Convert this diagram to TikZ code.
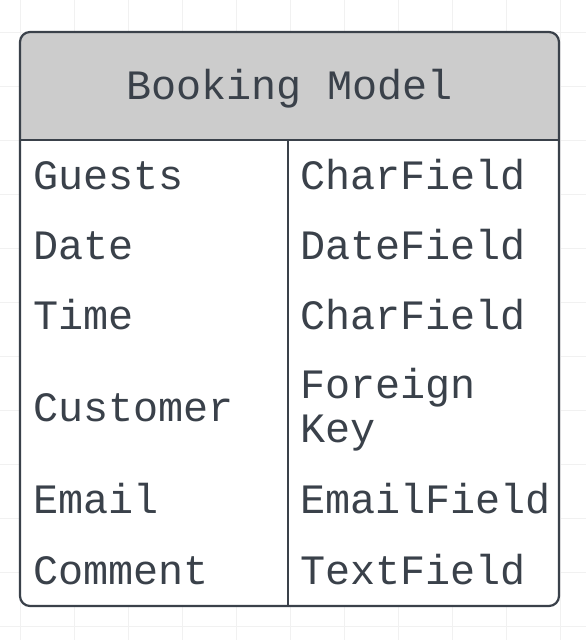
\documentclass[tikz,border=0pt]{standalone}
\usepackage{fontspec}
\newfontfamily\monofont{Liberation Mono}
\definecolor{ink}{HTML}{3A414A}
\definecolor{headfill}{HTML}{CCCCCC}
\definecolor{gridc}{HTML}{F1F1F1}
\begin{document}
\begin{tikzpicture}[x=1pt,y=-1pt,
  cell/.style={anchor=base west,inner sep=0pt,text=ink,font=\monofont\fontsize{41.8}{44}\selectfont},
  title/.style={anchor=base,inner sep=0pt,text=ink,font=\monofont\fontsize{41.8}{44}\selectfont},
  frame/.style={draw=ink,line width=2.2pt}]
\useasboundingbox (0,0) rectangle (586,640);
\fill[white] (0,0) rectangle (586,640);
% grid
\foreach \gx in {20,74,...,560} \draw[gridc,line width=1pt] (\gx,0) -- (\gx,640);
\foreach \gy in {32,86,...,626} \draw[gridc,line width=1pt] (0,\gy) -- (586,\gy);
% table body
\fill[white,rounded corners=10pt] (20,32) rectangle (559,606);
\begin{scope}
  \clip[rounded corners=10pt] (20,32) rectangle (559,606);
  \fill[headfill] (20,32) rectangle (559,140);
\end{scope}
\draw[frame,rounded corners=10pt] (20,32) rectangle (559,606);
\draw[frame] (20,140) -- (559,140);
\draw[frame] (288,140) -- (288,606);
% texts
\node[title] (t) at (289.5,99) {Booking Model};
\node[cell] (n1) at (33,189) {Guests};
\node[cell] (v1) at (300,189) {CharField};
\node[cell] (n2) at (33,259) {Date};
\node[cell] (v2) at (300,259) {DateField};
\node[cell] (n3) at (33,329) {Time};
\node[cell] (v3) at (300,329) {CharField};
\node[cell] (n4) at (33,421) {Customer};
\node[cell] (v4a) at (300,398) {Foreign};
\node[cell] (v4b) at (300,442) {Key};
\node[cell] (n5) at (33,513) {Email};
\node[cell] (v5) at (300,513) {EmailField};
\node[cell] (n6) at (33,584) {Comment};
\node[cell] (v6) at (300,584) {TextField};
\end{tikzpicture}
\end{document}
